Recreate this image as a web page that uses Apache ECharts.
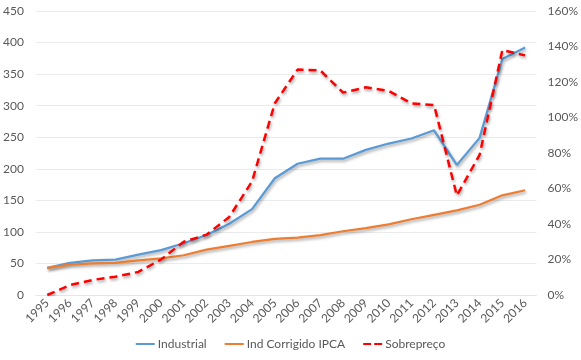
<!DOCTYPE html>
<html>
<head>
<meta charset="utf-8">
<script src="https://cdn.jsdelivr.net/npm/echarts@6/dist/echarts.min.js"></script>
<style>html,body{margin:0;padding:0;background:#fff}#c{width:581px;height:360px}</style>
</head>
<body>
<div id="c"></div>
<script>
const years = ['1995','1996','1997','1998','1999','2000','2001','2002','2003','2004','2005','2006','2007','2008','2009','2010','2011','2012','2013','2014','2015','2016'];
const industrial = [43,51,55,56,64,71,82,95,113,136,185,208,216,216,230,240,248,261,206,249,374,392];
const indCorrigido = [43,48,50,51,55,58,63,72,78,84,89,91,95,101,106,112,120,127,134,143,158,166];
const sobrepreco = [0,5.6,8.5,10.3,13,20,30,34,44,64,108,127,126.5,114,117,115,108,107,56,79,138,135];
const leftTicks = {min:0, max:450, interval:50};
const rightTicks = {min:0, max:160, interval:20};

const font = 'Lato, "Open Sans", sans-serif';
const txt = '#595959';
const shadow = {shadowColor:'rgba(0,0,0,0.35)', shadowBlur:3, shadowOffsetX:1, shadowOffsetY:2};
const solidIcon = 'path://M0,0H19V2H0Z';
const dashIcon = 'path://M0,0H8V2H0Z M11,0H19V2H11Z';
const chart = echarts.init(document.getElementById('c'), null, {renderer:'canvas'});
chart.setOption({
  animation:false,
  grid:{left:35, right:44, top:11, bottom:65, containLabel:false},
  legend:{
    bottom:5, left:'center', itemWidth:19, itemHeight:2, itemGap:18,
    textStyle:{color:txt, fontSize:12, fontFamily:font, padding:[0,0,0,-2]},
    data:[
      {name:'Industrial', icon:solidIcon},
      {name:'Ind Corrigido IPCA', icon:solidIcon},
      {name:'Sobrepreço', icon:dashIcon}
    ]
  },
  xAxis:{
    type:'category', data:years, boundaryGap:true,
    axisLine:{show:true, lineStyle:{color:'#E6E6E6'}},
    axisTick:{show:false},
    axisLabel:{rotate:45, color:txt, fontSize:12, fontFamily:font, interval:0, margin:6}
  },
  yAxis:[
    {type:'value', min:leftTicks.min, max:leftTicks.max, interval:leftTicks.interval,
     axisLine:{show:false}, axisTick:{show:false},
     splitLine:{lineStyle:{color:'#EBEBEB'}},
     axisLabel:{color:txt, fontSize:12, fontFamily:font, margin:12}},
    {type:'value', min:rightTicks.min, max:rightTicks.max, interval:rightTicks.interval,
     axisLine:{show:false}, axisTick:{show:false}, splitLine:{show:false},
     axisLabel:{color:txt, fontSize:12, fontFamily:font, margin:11, formatter:'{value}%'}}
  ],
  series:[
    {name:'Industrial', type:'line', data:industrial, yAxisIndex:0, symbol:'none',
     lineStyle:Object.assign({color:'#5B9BD5', width:2.25}, shadow), itemStyle:{color:'#5B9BD5'}},
    {name:'Ind Corrigido IPCA', type:'line', data:indCorrigido, yAxisIndex:0, symbol:'none',
     lineStyle:Object.assign({color:'#ED7D31', width:2.25}, shadow), itemStyle:{color:'#ED7D31'}},
    {name:'Sobrepreço', type:'line', data:sobrepreco, yAxisIndex:1, symbol:'none',
     lineStyle:Object.assign({color:'#FF0000', width:2.5, type:[8,5]}, shadow), itemStyle:{color:'#FF0000'}}
  ]
});
</script>
</body>
</html>
